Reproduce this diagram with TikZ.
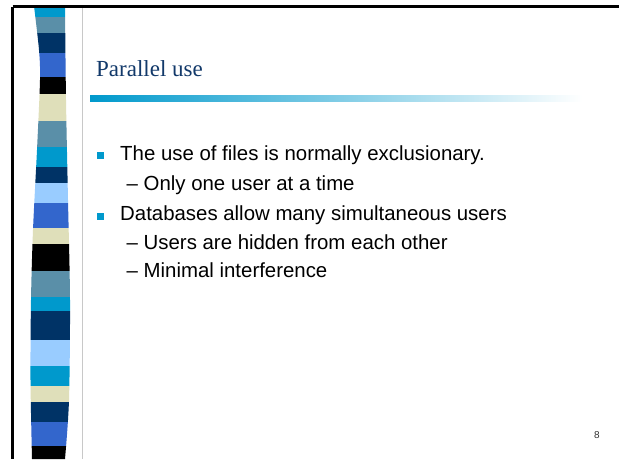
\documentclass[tikz,border=0pt]{standalone}
\usepackage{fontspec}
\setmainfont{Liberation Sans}
\newfontfamily\titlefont{Liberation Serif}
\usepackage{tikz}

\definecolor{stripcyan}{HTML}{0099CC}
\definecolor{stripsteel}{HTML}{5A8FA8}
\definecolor{stripnavy}{HTML}{003366}
\definecolor{stripblue}{HTML}{3366CC}
\definecolor{stripbeige}{HTML}{DFDFBA}
\definecolor{striplight}{HTML}{99CCFF}
\definecolor{titlenavy}{HTML}{12396A}
\definecolor{rulegray}{HTML}{C8C8C8}
\definecolor{barmid}{HTML}{A9C8E2}

\tikzset{
  bodytext/.style={anchor=base west, inner sep=0pt, font=\fontsize{20.4}{24}\selectfont},
  bulletbox/.style={fill=stripcyan, minimum size=7.5pt, inner sep=0pt},
}

\begin{document}
\begin{tikzpicture}[x=1pt, y=-1pt]
    \useasboundingbox (0,0) rectangle (619,459);
    \fill[white] (0,0) rectangle (619,459);

    % striped band on the left
    \begin{scope}
        \clip plot[smooth] coordinates {(34,6) (39,50) (40,80) (37,150) (33,230) (31,300) (30.5,380) (32,459)}
            -- plot[smooth] coordinates {(65,459) (69,400) (70,300) (68,200) (66,100) (65,6)} -- cycle;
        \foreach \ya/\yb/\col in {6/17/stripcyan, 17/33/stripsteel, 33/53/stripnavy, 53/77/stripblue,
            77/94/black, 94/121/stripbeige, 121/147/stripsteel, 147/167/stripcyan, 167/183/stripnavy,
            183/203/striplight, 203/228/stripblue, 228/244/stripbeige, 244/271/black, 271/297/stripsteel,
            297/311/stripcyan, 311/340/stripnavy, 340/366/striplight, 366/386/stripcyan, 386/402/stripbeige,
            402/422/stripnavy, 422/446/stripblue, 446/460/black}
            \fill[\col] (20,\ya) rectangle (80,\yb);
    \end{scope}

    % frame
    \draw[rulegray, line width=1pt] (82,6) -- (82,459);
    \draw[black, line width=2.5pt] (12.5,6.5) -- (619,6.5);
    \draw[black, line width=2.5pt] (12.5,6.5) -- (12.5,459);

    % title
    \node[anchor=base west, inner sep=0pt, text=titlenavy, font=\titlefont\fontsize{23}{27}\selectfont] at (96,76) (title) {Parallel use};
    \shade[left color=stripcyan, middle color=barmid, right color=white] (90,95) rectangle (582,101);

    % items
    \node[bulletbox] at (100.5,155.5) (bulA) {};
    \node[bodytext] at (120,160.7) (itemA) {The use of files is normally exclusionary.};
    \node[bodytext] at (126.5,190) (subA) {-- Only one user at a time};
    \node[bulletbox] at (100.5,216.5) (bulB) {};
    \node[bodytext] at (120,220) (itemB) {Databases allow many simultaneous users};
    \node[bodytext] at (126.5,249) (subBa) {-- Users are hidden from each other};
    \node[bodytext] at (126.5,277.7) (subBb) {-- Minimal interference};

    \node[anchor=base, inner sep=0pt, text=black!80, font=\fontsize{10}{12}\selectfont] at (597,438) (pagenum) {8};
\end{tikzpicture}
\end{document}
